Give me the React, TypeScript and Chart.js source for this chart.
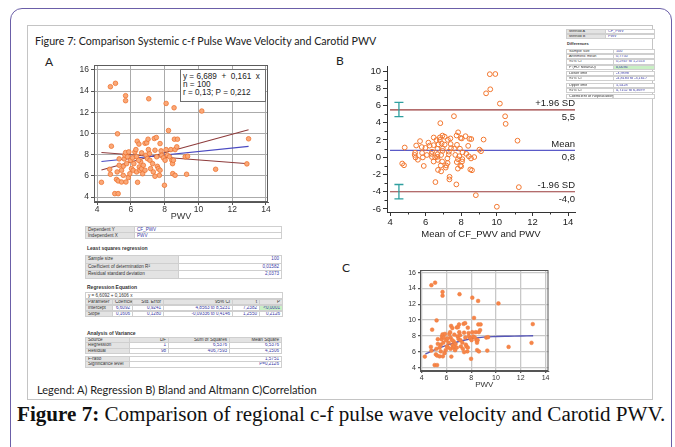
import React, { useEffect, useRef } from "react";
import { Chart, registerables } from "chart.js";
Chart.register(...registerables);

const SANS = "'Liberation Sans', Arial, sans-serif";
const LATO = "Lato, 'Open Sans', sans-serif";
const SERIF = "'Liberation Serif', 'Times New Roman', serif";

// ---- data: PWV (x) vs CF_PWV (y) ----
const pwv = [
  4.26, 4.79, 5.09, 4.85, 4.75, 4.79, 5.05, 5.25, 5.21, 5.19,
  5.31, 5.15, 5.25, 5.45, 5.55, 5.61, 5.65, 5.69, 5.69, 5.69,
  5.71, 5.85, 5.88, 5.94, 5.45, 5.55, 5.75, 6.04, 6.14, 6.24,
  6.3, 6.34, 6.38, 6.48, 6.4, 6.34, 6.5, 6.58, 6.54, 6.64,
  6.74, 6.84, 6.94, 7.02, 7.06, 6.9, 6.98, 7.13, 7.17, 7.29,
  7.33, 7.39, 7.51, 7.43, 7.53, 7.57, 7.63, 7.69, 7.43, 7.73,
  7.79, 7.83, 7.93, 7.99, 8.03, 8.09, 8.09, 8.17, 8.23, 8.29,
  8.37, 8.43, 8.47, 8.52, 8.56, 8.58, 8.76, 8.62, 8.72, 8.48,
  8.62, 9.22, 9.36, 9.3, 10.2, 11.02, 12.87, 12.97, 5.98, 6.1,
  6.64, 6.18, 7.1, 6.7, 6.84, 5.8, 5.31, 6.46, 7.04, 7.73,
];
const cfPwv = [
  5.39, 14.42, 14.74, 8.8, 6.62, 6.15, 4.32, 4.32, 9.97, 6.37,
  7.6, 5.67, 5.52, 5.42, 6.9, 7.6, 7.95, 8.2, 13.57, 13.1,
  5.42, 5.83, 8.26, 6.2, 6.53, 6.05, 7.15, 6.68, 6.53, 8.26,
  8.48, 7.8, 9.27, 9.0, 5.39, 6.37, 6.84, 7.32, 6.53, 6.68,
  7.0, 9.08, 9.12, 9.46, 13.28, 7.95, 7.63, 7.47, 6.68, 7.15,
  6.37, 9.53, 9.62, 8.42, 7.8, 6.9, 6.68, 6.05, 5.96, 6.53,
  8.36, 7.95, 7.7, 5.11, 7.47, 12.84, 8.48, 7.95, 10.28, 7.8,
  8.48, 7.47, 7.15, 7.47, 12.43, 9.46, 9.46, 8.48, 8.74, 6.21,
  6.05, 7.8, 7.85, 6.15, 12.12, 6.62, 7.13, 9.5, 7.47, 7.7,
  8.17, 7.15, 8.1, 6.2, 6.53, 7.8, 7.0, 7.47, 8.48, 9.05,
];

// chart A lines
const regX = [4.26, 12.97];
const regY = [7.36, 8.78];
const ciHiX = [4.26, 12.97];
const ciHiY = [6.55, 10.35];
const ciLoX = [4.26, 12.97];
const ciLoY = [8.2, 7.15];

const aXTicks = [4, 6, 8, 10, 12, 14];
const aYTicks = [4, 6, 8, 10, 12, 14, 16];

// chart B (Bland-Altman)
const bXTicks = [4, 6, 8, 10, 12, 14];
const bYTicks = [-6, -4, -2, 0, 2, 4, 6, 8, 10];
const bMinorX = [5, 7, 9, 11, 13];
const bMinorY = [-5, -3, -1, 1, 3, 5, 7, 9];
const limitValues = [5.5, 0.8, -4.0];
const limitNames = ["+1.96 SD", "Mean", "-1.96 SD"];
const limitTexts = ["5,5", "0,8", "-4,0"];
const limitColors = ["#9a3b3b", "#5a5ac8", "#9a3b3b"];
const limitLineX = [4, 14.4];
const ciBarX = 4.5;
const upperCI = [4.7152, 6.3699];
const lowerCI = [-4.8183, -3.1617];

// chart C (correlation with trend)
const cXTicks = [4, 6, 8, 10, 12, 14];
const cYTicks = [4, 6, 8, 10, 12, 14, 16];
const cTrendX = [4.3, 5, 6, 7, 8, 9, 10, 11, 12, 13];
const cTrendY = [5.7, 6.2, 6.8, 7.3, 7.65, 7.85, 7.93, 7.97, 8.0, 8.03];

const pts = (xs: number[], ys: number[]) => xs.map((x, i) => ({ x, y: ys[i] }));

const boxPlugin = (color: string, width: number) => ({
  id: "boxFrame",
  afterDraw(chart: any) {
    const { ctx, chartArea: a } = chart;
    ctx.save();
    ctx.strokeStyle = color;
    ctx.lineWidth = width;
    ctx.strokeRect(a.left + 0.5, a.top + 0.5, a.right - a.left - 1, a.bottom - a.top - 1);
    ctx.restore();
  },
});

const baPlugin = {
  id: "baExtras",
  afterDraw(chart: any) {
    const { ctx, chartArea: a, scales } = chart;
    const sx = scales.x, sy = scales.y;
    ctx.save();
    ctx.strokeStyle = "#333";
    ctx.lineWidth = 1;
    ctx.beginPath();
    bMinorX.forEach((v) => {
      const px = Math.round(sx.getPixelForValue(v)) + 0.5;
      ctx.moveTo(px, a.bottom);
      ctx.lineTo(px, a.bottom + 2.5);
    });
    bMinorY.forEach((v) => {
      const py = Math.round(sy.getPixelForValue(v)) + 0.5;
      ctx.moveTo(a.left - 2.5, py);
      ctx.lineTo(a.left, py);
    });
    ctx.stroke();
    ctx.strokeStyle = "#2f9f9f";
    ctx.lineWidth = 1.3;
    [upperCI, lowerCI].forEach((ci) => {
      const px = sx.getPixelForValue(ciBarX);
      const p1 = sy.getPixelForValue(ci[0]);
      const p2 = sy.getPixelForValue(ci[1]);
      ctx.beginPath();
      ctx.moveTo(px, p1);
      ctx.lineTo(px, p2);
      ctx.moveTo(px - 4.5, p1);
      ctx.lineTo(px + 4.5, p1);
      ctx.moveTo(px - 4.5, p2);
      ctx.lineTo(px + 4.5, p2);
      ctx.stroke();
    });
    ctx.fillStyle = "#222";
    ctx.font = `9.5px ${SANS}`;
    ctx.textAlign = "right";
    limitValues.forEach((v, i) => {
      const py = sy.getPixelForValue(v);
      ctx.textBaseline = "bottom";
      ctx.fillText(limitNames[i], a.right, py - 1.5);
      ctx.textBaseline = "top";
      ctx.fillText(limitTexts[i], a.right, py + 2.5);
    });
    ctx.restore();
  },
};

const baseOpts = (padTop: number, padRight: number) => ({
  animation: false as const,
  responsive: false,
  maintainAspectRatio: false,
  devicePixelRatio: 1,
  events: [] as any[],
  layout: { padding: { top: padTop, right: padRight, left: 0, bottom: 0 } },
  plugins: { legend: { display: false }, tooltip: { enabled: false } },
});

function configA(): any {
  return {
    type: "scatter",
    data: {
      datasets: [
        { data: pts(pwv, cfPwv), pointRadius: 2.3, pointBackgroundColor: "#faa878", pointBorderColor: "#ef7330", pointBorderWidth: 0.8 },
        { data: pts(regX, regY), showLine: true, borderColor: "#4a4ac2", borderWidth: 1.1, pointRadius: 0 },
        { data: pts(ciHiX, ciHiY), showLine: true, borderColor: "#8e3c3c", borderWidth: 1.1, pointRadius: 0 },
        { data: pts(ciLoX, ciLoY), showLine: true, borderColor: "#8e3c3c", borderWidth: 1.1, pointRadius: 0 },
      ],
    },
    options: {
      ...baseOpts(10, 12),
      scales: {
        x: {
          type: "linear", min: 3.82, max: 14.12,
          afterBuildTicks: (ax: any) => { ax.ticks = aXTicks.map((v) => ({ value: v })); },
          afterFit: (ax: any) => { ax.height = 20; },
          grid: { color: "#ababab", tickColor: "#555", tickLength: 3 },
          border: { color: "#555" },
          ticks: { font: { family: SANS, size: 8.5 }, color: "#333", padding: 0, maxRotation: 0, autoSkip: false },
          title: { display: true, text: "PWV", font: { family: SANS, size: 9 }, color: "#333", padding: 0 },
        },
        y: {
          type: "linear", min: 3.53, max: 16.47,
          afterBuildTicks: (ax: any) => { ax.ticks = aYTicks.map((v) => ({ value: v })); },
          afterFit: (ax: any) => { ax.width = 34; },
          grid: { color: "#ababab", tickColor: "#555", tickLength: 3 },
          border: { color: "#555" },
          ticks: { font: { family: SANS, size: 8.5 }, color: "#333", padding: 2, autoSkip: false },
        },
      },
    },
    plugins: [boxPlugin("#5c5c5c", 1)],
  };
}

function configB(): any {
  const mean = pwv.map((p, i) => (p + cfPwv[i]) / 2);
  const diff = pwv.map((p, i) => cfPwv[i] - p);
  return {
    type: "scatter",
    data: {
      datasets: [
        { data: pts(mean, diff), pointRadius: 2.4, pointBackgroundColor: "rgba(255,255,255,0)", pointBorderColor: "#f2772f", pointBorderWidth: 1 },
        ...limitValues.map((v, i) => ({
          data: pts(limitLineX, limitLineX.map(() => v)),
          showLine: true, borderColor: limitColors[i], borderWidth: 1.2, pointRadius: 0,
        })),
      ],
    },
    options: {
      ...baseOpts(10, 3),
      scales: {
        x: {
          type: "linear", min: 3.83, max: 14.39,
          afterBuildTicks: (ax: any) => { ax.ticks = bXTicks.map((v) => ({ value: v })); },
          afterFit: (ax: any) => { ax.height = 28; },
          grid: { drawOnChartArea: false, color: "#333", tickLength: 4 },
          border: { color: "#333" },
          ticks: { font: { family: SANS, size: 9.5 }, color: "#222", padding: 1, maxRotation: 0, autoSkip: false },
          title: { display: true, text: "Mean of CF_PWV and PWV", font: { family: SANS, size: 9.5 }, color: "#222", padding: 0 },
        },
        y: {
          type: "linear", min: -6.35, max: 10.58,
          afterBuildTicks: (ax: any) => { ax.ticks = bYTicks.map((v) => ({ value: v })); },
          afterFit: (ax: any) => { ax.width = 47; },
          grid: { drawOnChartArea: false, color: "#333", tickLength: 4 },
          border: { color: "#333" },
          ticks: { font: { family: SANS, size: 9.5 }, color: "#222", padding: 2, autoSkip: false },
        },
      },
    },
    plugins: [baPlugin],
  };
}

function configC(): any {
  return {
    type: "scatter",
    data: {
      datasets: [
        { data: pts(pwv, cfPwv), pointRadius: 1.9, pointBackgroundColor: "#f5854a", pointBorderColor: "#f07a38", pointBorderWidth: 0.5 },
        { data: pts(cTrendX, cTrendY), showLine: true, tension: 0.4, borderColor: "#5656b8", borderWidth: 1.4, pointRadius: 0 },
      ],
    },
    options: {
      ...baseOpts(8, 2),
      scales: {
        x: {
          type: "linear", min: 3.87, max: 14.24,
          afterBuildTicks: (ax: any) => { ax.ticks = cXTicks.map((v) => ({ value: v })); },
          afterFit: (ax: any) => { ax.height = 19; },
          grid: { color: "#c8c8c8", lineWidth: 1.3, tickColor: "#555", tickLength: 2 },
          border: { color: "#555" },
          ticks: { font: { family: SANS, size: 7 }, color: "#333", padding: 1, maxRotation: 0, autoSkip: false },
          title: { display: true, text: "PWV", font: { family: SANS, size: 8 }, color: "#333", padding: 0 },
        },
        y: {
          type: "linear", min: 3.57, max: 16.34,
          afterBuildTicks: (ax: any) => { ax.ticks = cYTicks.map((v) => ({ value: v })); },
          afterFit: (ax: any) => { ax.width = 27; },
          grid: { color: "#c8c8c8", lineWidth: 1.3, tickColor: "#555", tickLength: 2 },
          border: { color: "#555" },
          ticks: { font: { family: SANS, size: 7 }, color: "#333", padding: 2, autoSkip: false },
        },
      },
    },
    plugins: [boxPlugin("#555", 1)],
  };
}

// ---- tiny HTML tables ----
type Cell = { w: number; t: string; al?: "left" | "right" | "center"; bg?: string; c?: string; b?: boolean };
const GRAY = "#e3e3e3";
const BLUE = "#3a3aa6";
const GREEN = "#c9f0c4";

function Row({ x, y, h, cells, fs = 4.6 }: { x: number; y: number; h: number; cells: Cell[]; fs?: number }) {
  return (
    <div style={{ position: "absolute", left: x, top: y, height: h, display: "flex" }}>
      {cells.map((c, i) => (
        <div
          key={i}
          style={{
            width: c.w, height: h, boxSizing: "border-box", background: c.bg ?? "#fff",
            border: "1px solid #cfcfcf", marginLeft: i ? -1 : 0,
            color: c.c ?? "#333", fontSize: fs, lineHeight: `${h - 2}px`, textAlign: c.al ?? "left",
            padding: "0 2px", whiteSpace: "nowrap", overflow: "hidden", fontWeight: c.b ? "bold" : "normal",
            fontFamily: SANS,
          }}
        >
          {c.t}
        </div>
      ))}
    </div>
  );
}

function Txt({ x, y, t, fs = 5, b = false }: { x: number; y: number; t: string; fs?: number; b?: boolean }) {
  return (
    <div style={{ position: "absolute", left: x, top: y, fontSize: fs, fontFamily: SANS, fontWeight: b ? "bold" : "normal", color: "#333", whiteSpace: "nowrap", lineHeight: 1 }}>
      {t}
    </div>
  );
}

const baRows: [string, string, string?][] = [
  ["Sample size", "100"],
  ["Arithmetic mean", "0,7750"],
  ["95% CI", "0,2947 to 1,2553"],
  ["P (H0: Mean=0)", "0,0036", GREEN],
  ["Lower limit", "-3,9898"],
  ["95% CI", "-4,8183 to -3,1617"],
  ["Upper limit", "5,5428"],
  ["95% CI", "4,7152 to 6,3699"],
  ["Coefficient of Repeatability", ""],
];

export default function App() {
  const refA = useRef<HTMLCanvasElement>(null);
  const refB = useRef<HTMLCanvasElement>(null);
  const refC = useRef<HTMLCanvasElement>(null);

  useEffect(() => {
    const charts = [
      new Chart(refA.current!, configA()),
      new Chart(refB.current!, configB()),
      new Chart(refC.current!, configC()),
    ];
    return () => charts.forEach((c) => c.destroy());
  }, []);

  const X0 = 85;
  return (
    <div style={{ position: "fixed", left: 0, top: 0, width: 675, height: 447, background: "#fff", overflow: "hidden" }}>
      <div style={{ position: "absolute", left: 10, top: 8, width: 662, height: 470, boxSizing: "border-box", border: "1.5px solid #6b5fa8", borderRadius: 12 }} />
      <div style={{ position: "absolute", left: 27, top: 25, width: 626, height: 375, boxSizing: "border-box", border: "1px solid #c4c4c4" }} />

      <div style={{ position: "absolute", left: 35, top: 34, fontFamily: LATO, fontSize: 10.7, color: "#222", whiteSpace: "nowrap" }}>
        Figure 7: Comparison Systemic c-f Pulse Wave Velocity and Carotid PWV
      </div>
      <div style={{ position: "absolute", left: 45, top: 54, fontFamily: LATO, fontSize: 12, color: "#222" }}>A</div>
      <div style={{ position: "absolute", left: 336, top: 53, fontFamily: LATO, fontSize: 12, color: "#222" }}>B</div>
      <div style={{ position: "absolute", left: 342, top: 260, fontFamily: LATO, fontSize: 12, color: "#222" }}>C</div>

      <canvas ref={refA} width={220} height={167} style={{ position: "absolute", left: 60, top: 55, width: 220, height: 167 }} />
      <canvas ref={refB} width={240} height={184} style={{ position: "absolute", left: 340, top: 56, width: 240, height: 184 }} />
      <canvas ref={refC} width={160} height={128} style={{ position: "absolute", left: 393, top: 262, width: 160, height: 128 }} />

      <div style={{ position: "absolute", left: 180, top: 69, width: 86, height: 33, boxSizing: "border-box", border: "1px solid #707070", background: "#fff", padding: "2.5px 0 0 2px", fontFamily: SANS, fontSize: 8.2, lineHeight: "8.3px", color: "#222", whiteSpace: "pre" }}>
        {"y = 6,689  +  0,161  x\nn = 100\nr = 0,13; P = 0,212"}
      </div>

      <Row x={X0} y={226} h={7} cells={[{ w: 50, t: "Dependent Y", bg: GRAY }, { w: 148, t: "CF_PWV", c: BLUE }]} />
      <Row x={X0} y={232} h={7} cells={[{ w: 50, t: "Independent X", bg: GRAY }, { w: 148, t: "PWV", c: BLUE }]} />

      <Txt x={X0 + 2} y={246} t="Least squares regression" fs={5} b />
      <Row x={X0} y={255} h={8.5} cells={[{ w: 94, t: "Sample size", bg: GRAY }, { w: 104, t: "100", al: "right", c: BLUE }]} />
      <Row x={X0} y={262.5} h={8.5} cells={[{ w: 94, t: "Coefficient of determination R²", bg: GRAY }, { w: 104, t: "0,01582", al: "right", c: BLUE }]} />
      <Row x={X0} y={270} h={8.5} cells={[{ w: 94, t: "Residual standard deviation", bg: GRAY }, { w: 104, t: "2,0373", al: "right", c: BLUE }]} />

      <Txt x={X0 + 2} y={285} t="Regression Equation" fs={5} b />
      <Row x={X0} y={292} h={7} cells={[{ w: 198, t: "y = 6,6092 + 0,1606 x" }]} />
      <Row x={X0} y={298.5} h={6.5} cells={[
        { w: 28, t: "Parameter", bg: GRAY }, { w: 21, t: "Coefficient", bg: GRAY, al: "right" }, { w: 32, t: "Std. Error", bg: GRAY, al: "right" },
        { w: 70, t: "95% CI", bg: GRAY, al: "right" }, { w: 28, t: "t", bg: GRAY, al: "right" }, { w: 24, t: "P", bg: GRAY, al: "right" }]} />
      <Row x={X0} y={304.5} h={6.5} cells={[
        { w: 28, t: "Intercept", bg: GRAY }, { w: 21, t: "6,6092", al: "right", c: BLUE }, { w: 32, t: "0,9241", al: "right", c: BLUE },
        { w: 70, t: "4,8563 to 8,5231", al: "right", c: BLUE }, { w: 28, t: "7,2382", al: "right", c: BLUE }, { w: 24, t: "<0,0001", al: "right", c: BLUE, bg: GREEN }]} />
      <Row x={X0} y={310.5} h={6.5} cells={[
        { w: 28, t: "Slope", bg: GRAY }, { w: 21, t: "0,1606", al: "right", c: BLUE }, { w: 32, t: "0,1280", al: "right", c: BLUE },
        { w: 70, t: "-0,09336 to 0,4146", al: "right", c: BLUE }, { w: 28, t: "1,2550", al: "right", c: BLUE }, { w: 24, t: "0,2126", al: "right", c: BLUE }]} />

      <Txt x={X0 + 2} y={331} t="Analysis of Variance" fs={5} b />
      <Row x={X0} y={336.5} h={6.5} cells={[
        { w: 45, t: "Source", bg: GRAY }, { w: 40, t: "DF", bg: GRAY, al: "right" }, { w: 62, t: "Sum of Squares", bg: GRAY, al: "right" }, { w: 53, t: "Mean Square", bg: GRAY, al: "right" }]} />
      <Row x={X0} y={342} h={6.5} cells={[
        { w: 45, t: "Regression", bg: GRAY }, { w: 40, t: "1", al: "right", c: BLUE }, { w: 62, t: "6,5376", al: "right", c: BLUE }, { w: 53, t: "6,5376", al: "right", c: BLUE }]} />
      <Row x={X0} y={347.5} h={6.5} cells={[
        { w: 45, t: "Residual", bg: GRAY }, { w: 40, t: "98", al: "right", c: BLUE }, { w: 62, t: "406,7593", al: "right", c: BLUE }, { w: 53, t: "4,1506", al: "right", c: BLUE }]} />
      <Row x={X0} y={355.5} h={6.5} cells={[{ w: 45, t: "F-ratio", bg: GRAY }, { w: 153, t: "1,5751", al: "right", c: BLUE }]} />
      <Row x={X0} y={361} h={6.5} cells={[{ w: 45, t: "Significance level", bg: GRAY }, { w: 153, t: "P=0,2126", al: "right", c: BLUE }]} />

      <Row x={566} y={29} h={5} fs={3.8} cells={[{ w: 40, t: "Method A", bg: GRAY }, { w: 50, t: "CF_PWV", c: BLUE }]} />
      <Row x={566} y={33.5} h={5} fs={3.8} cells={[{ w: 40, t: "Method B", bg: GRAY }, { w: 50, t: "PWV", c: BLUE }]} />
      <Txt x={567} y={42} t="Differences" fs={4} b />
      {baRows.map((r, i) => (
        <Row key={i} x={566} y={49 + i * 5.2 + (i >= 4 ? 1 : 0) + (i >= 6 ? 1.5 : 0) + (i >= 8 ? 1 : 0)} h={5.2} fs={3.8}
          cells={[{ w: 48, t: r[0] }, { w: 42, t: r[1], c: BLUE, bg: r[2] ?? "#fff" }]} />
      ))}

      <div style={{ position: "absolute", left: 37, top: 383, fontFamily: LATO, fontSize: 11, color: "#222", whiteSpace: "nowrap" }}>
        Legend: A) Regression B) Bland and Altmann C)Correlation
      </div>

      <div style={{ position: "absolute", left: 17, top: 402, fontFamily: SERIF, fontSize: 21.1, color: "#111", whiteSpace: "nowrap" }}>
        <b>Figure 7:</b> Comparison of regional c-f pulse wave velocity and Carotid PWV.
      </div>
    </div>
  );
}
